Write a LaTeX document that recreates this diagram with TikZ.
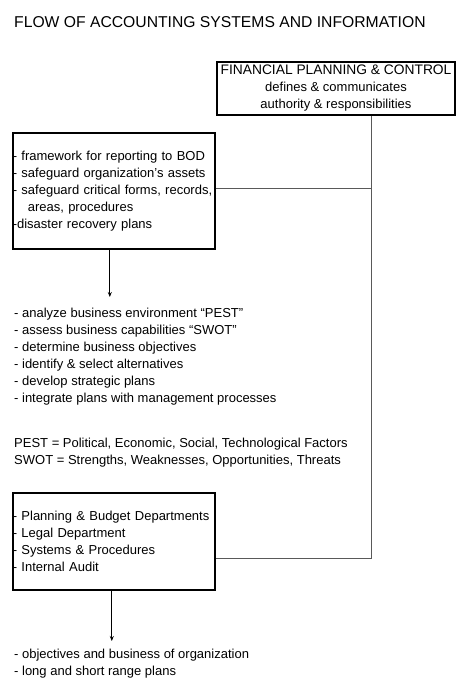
\documentclass[tikz,border=0pt]{standalone}
\usepackage{fontspec}
\setmainfont{Liberation Sans}
\usetikzlibrary{arrows.meta,positioning}
\tikzstyle{box} = [rectangle, draw=black, line width=1.6pt, inner xsep=2.5pt, inner ysep=0pt]
\tikzstyle{txt} = [font=\fontsize{13}{17}\selectfont, inner sep=0pt, align=left]
\tikzstyle{arrow} = [line width=0.8pt, -{Stealth[length=5pt,width=4pt]}]
\tikzstyle{link} = [line width=1pt, color=black!65]

\begin{document}
\begin{tikzpicture}[x=1pt, y=-1pt]
    \useasboundingbox (0,0) rectangle (469,695);

    % Title
    \node[anchor=west, inner sep=0pt, font=\fontsize{15.7}{18}\selectfont] (title) at (14,22) {FLOW OF ACCOUNTING SYSTEMS AND INFORMATION};

    % Boxes
    \node[box, txt, align=center, minimum width=238pt, minimum height=53pt] (fpc) at (336,88.5) {{\fontsize{13.8}{17}\selectfont FINANCIAL PLANNING \& CONTROL}\\ defines \& communicates\\ authority \& responsibilities};

    \node[box, txt, anchor=north west, text width=202pt, minimum height=116pt] (safeguards) at (12,132) {- framework for reporting to BOD\\ - safeguard organization’s assets\\ - safeguard critical forms, records,\\ \hspace*{15pt}areas, procedures\\ -disaster recovery plans};

    \node[box, txt, anchor=north west, text width=202pt, minimum height=97pt] (staff) at (12,492) {- Planning \& Budget Departments\\ - Legal Department\\ - Systems \& Procedures\\ - Internal Audit};

    % Texts
    \node[txt, anchor=north west] (mgmt) at (14,308) {- analyze business environment “PEST”\\ - assess business capabilities “SWOT”\\ - determine business objectives\\ - identify \& select alternatives\\ - develop strategic plans\\ - integrate plans with management processes};

    \node[txt, anchor=north west] (pest) at (14,438) {PEST = Political, Economic, Social, Technological Factors\\ SWOT = Strengths, Weaknesses, Opportunities, Threats};

    \node[txt, anchor=north west] (plans) at (14,649) {- objectives and business of organization\\ - long and short range plans};

    % Connectors
    \coordinate (bus) at (371,558);
    \draw[link] (fpc.south -| bus) -- (bus) -- (staff.east |- bus);
    \draw[link] ([yshift=2pt]safeguards.east) -- ([yshift=2pt]safeguards.east -| bus);

    \draw[arrow] ([xshift=-4pt]safeguards.south) -- ([xshift=-4pt, yshift=11pt]safeguards.south |- mgmt.north);
    \draw[arrow] ([xshift=-2pt]staff.south) -- ([xshift=-2pt, yshift=8pt]staff.south |- plans.north);
\end{tikzpicture}
\end{document}
